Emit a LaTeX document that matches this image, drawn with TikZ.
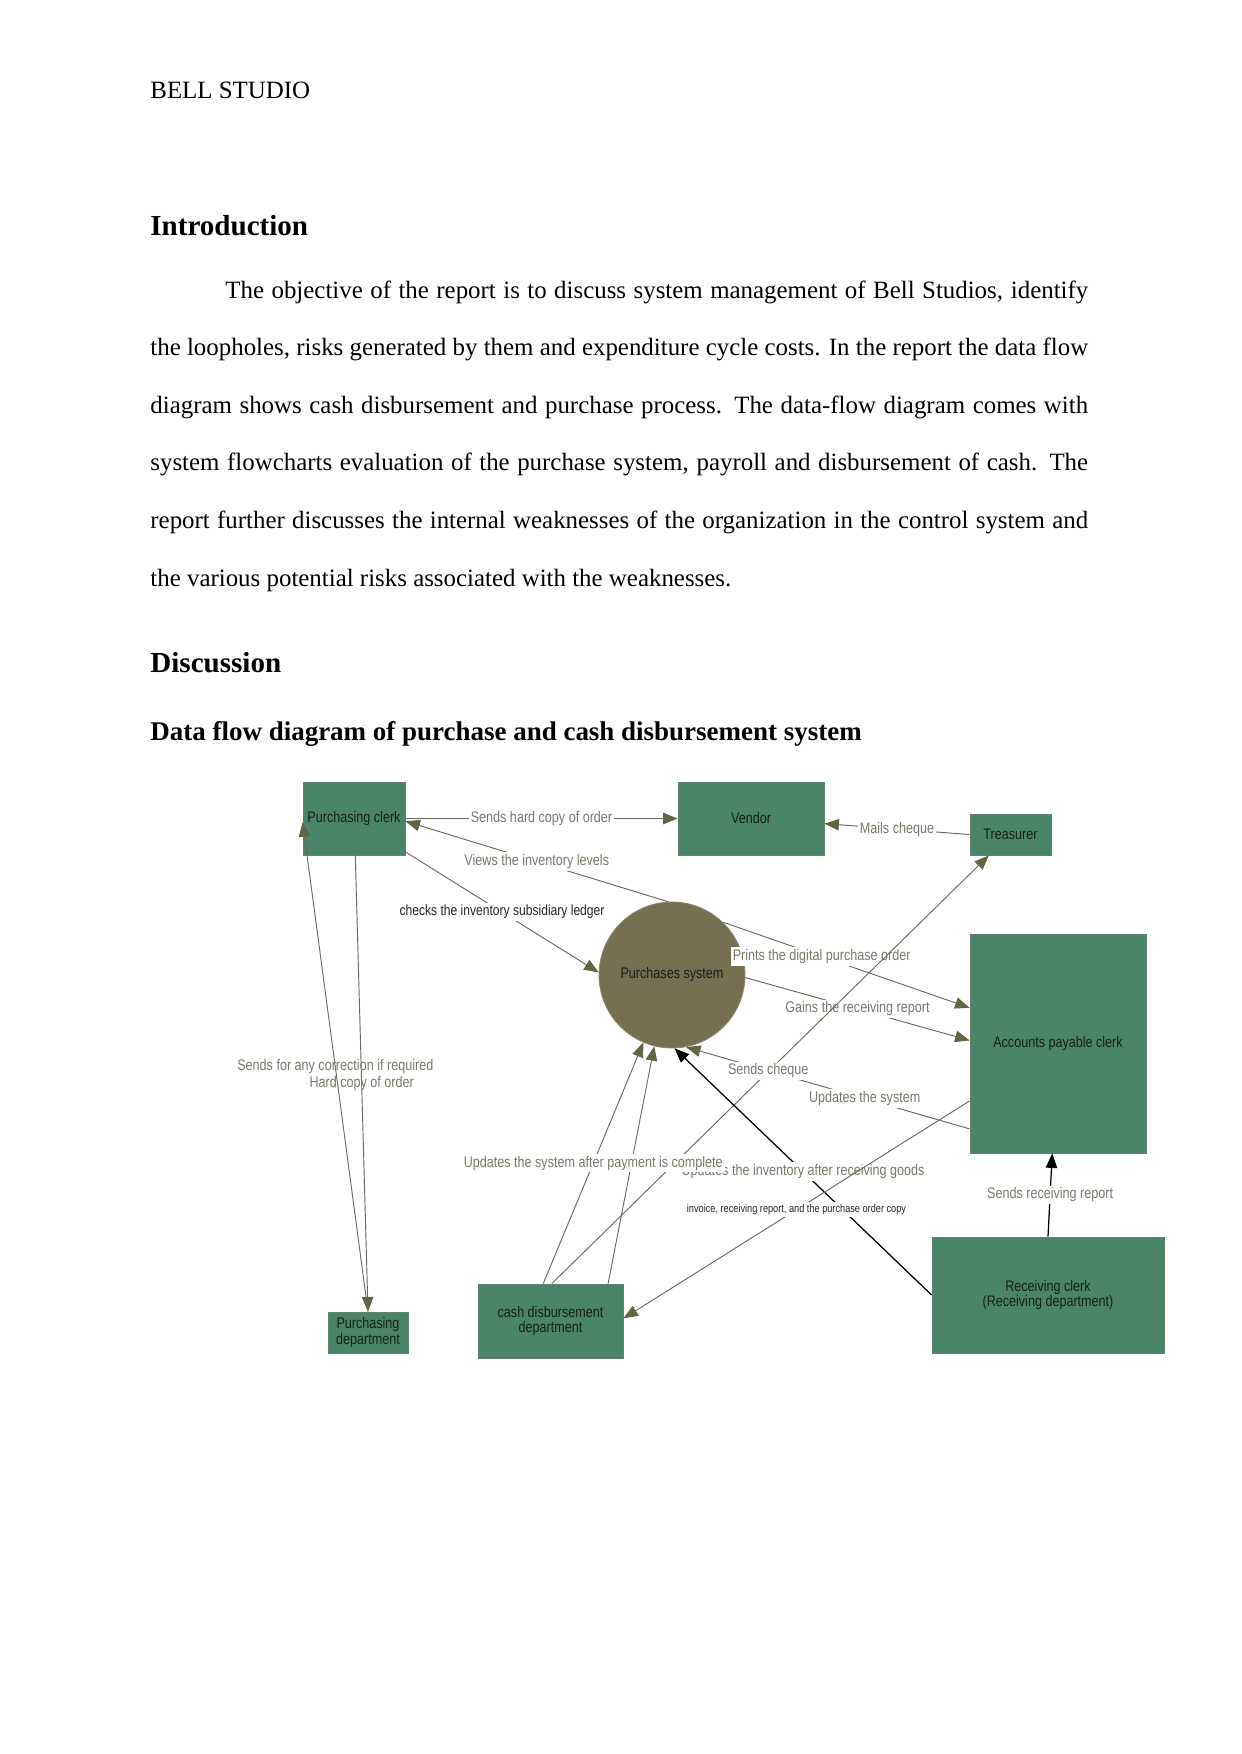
\documentclass[tikz,border=0pt]{standalone}
\usepackage{fontspec}
\setmainfont{Liberation Serif}
\newfontfamily\dfd[FakeStretch=0.82]{Liberation Sans}
\usetikzlibrary{arrows.meta}
\definecolor{boxg}{RGB}{75,133,105}
\definecolor{circc}{RGB}{118,111,82}
\definecolor{linec}{RGB}{105,105,95}
\definecolor{arrc}{RGB}{95,102,68}
\definecolor{lblc}{RGB}{120,122,108}
\definecolor{boxtxt}{RGB}{20,32,26}
\tikzset{
  body/.style={anchor=base west, inner sep=0pt, font=\fontsize{12pt}{14pt}\selectfont},
  head/.style={anchor=base west, inner sep=0pt, font=\bfseries\fontsize{14pt}{16pt}\selectfont},
  subhead/.style={anchor=base west, inner sep=0pt, font=\bfseries\fontsize{13pt}{15pt}\selectfont},
  box/.style={draw=boxg!60!gray, line width=0.4pt, fill=boxg, inner sep=0pt, text=boxtxt,
    font=\dfd\fontsize{7.4pt}{7.4pt}\selectfont, align=center},
  proc/.style={circle, fill=circc, draw=circc!85!white, line width=0.4pt, minimum size=2.472cm,
    inner sep=0pt, text=boxtxt, font=\dfd\fontsize{7.4pt}{7.4pt}\selectfont},
  conn/.style={draw=linec, line width=0.45pt, -{Triangle[length=7pt,width=5.5pt,color=arrc]}},
  bconn/.style={draw=black, line width=0.6pt, -{Triangle[length=7pt,width=5.5pt,color=black]}},
  lbl/.style={fill=white, inner sep=1pt, text=lblc, font=\dfd\fontsize{7.4pt}{7.4pt}\selectfont},
  nlbl/.style={lbl, fill=none},
  dlbl/.style={lbl, text=black!85, font=\dfd\fontsize{7.1pt}{7.1pt}\selectfont},
  slbl/.style={lbl, text=black!85, font=\dfd\fontsize{5.4pt}{5.4pt}\selectfont},
}
\begin{document}
\begin{tikzpicture}[x=0.0169333cm, y=-0.0169333cm]
\useasboundingbox (0,0) rectangle (1241,1754);
\fill[white] (0,0) rectangle (1241,1754);

% ---------- page text ----------
\node[body] (hdr) at (150,98) {BELL STUDIO};
\node[head] (intro) at (150,235) {Introduction};
\node[body] (l1) at (225,298) {\makebox[415.8pt][s]{The objective of the report is to discuss system management of Bell Studios, identify}};
\node[body] (l2) at (150,355.6) {\makebox[451.9pt][s]{the loopholes, risks generated by them and expenditure cycle costs. In the report the data flow}};
\node[body] (l3) at (150,413.2) {\makebox[451.9pt][s]{diagram shows cash disbursement and purchase process. The data-flow diagram comes with}};
\node[body] (l4) at (150,470.8) {\makebox[451.9pt][s]{system flowcharts evaluation of the purchase system, payroll and disbursement of cash. The}};
\node[body] (l5) at (150,528.4) {\makebox[451.9pt][s]{report further discusses the internal weaknesses of the organization in the control system and}};
\node[body] (l6) at (150,586) {the various potential risks associated with the weaknesses.};
\node[head] (disc) at (150,672.5) {Discussion};
\node[subhead] (dfdt) at (150,740) {Data flow diagram of purchase and cash disbursement system};

% ---------- diagram nodes ----------
\node[box, minimum width=1.727cm, minimum height=1.236cm] (pc) at (354,818.5) {Purchasing clerk};
\node[box, minimum width=2.472cm, minimum height=1.236cm] (ven) at (751,818.5) {Vendor};
\node[box, minimum width=1.372cm, minimum height=0.694cm] (tr) at (1010.5,834.5) {Treasurer};
\node[box, minimum width=2.980cm, minimum height=3.708cm] (ap) at (1058,1043.5) {Accounts payable clerk};
\node[box, minimum width=3.929cm, minimum height=1.964cm] (rc) at (1048,1295) {Receiving clerk\\(Receiving department)};
\node[box, minimum width=2.455cm, minimum height=1.253cm] (cd) at (550.5,1321) {cash disbursement\\department};
\node[box, minimum width=1.355cm, minimum height=0.694cm] (pd) at (368,1332.5) {Purchasing\\department};
\node[proc] (ps) at (672,975) {Purchases system};

% ---------- connectors ----------
\draw[conn] (pc.east) -- node[lbl]{Sends hard copy of order} (ven.west);
\draw[conn] (tr.west) -- node[lbl]{Mails cheque} (ven.-4);
\draw[conn] (ps.93) -- node[lbl]{Views the inventory levels} (pc.-3);
\draw[conn] (pc.-33) -- node[dlbl]{checks the inventory subsidiary ledger} (ps.178);
\draw[conn] (ps.46) -- node[lbl, pos=0.4]{Prints the digital purchase order} (ap.158);
\draw[conn] (ps.-2) -- node[lbl]{Gains the receiving report} (ap.178);
\draw[conn] (pd.north) -- node[nlbl]{Sends for any correction if required} (pc.184);
\draw[conn] (pc.-88) -- node[nlbl]{Hard copy of order} (pd.north);
\draw[conn] (cd.88) -- (tr.224);
\draw[conn] (ap.224) -- node[lbl, pos=0.37]{Updates the system} node[lbl, pos=0.71]{Sends cheque} (ps.-79);
\draw[bconn] (rc.north) -- node[lbl]{Sends receiving report} (ap.-93);
\draw[conn] (cd.33) -- (ps.-104);
\draw[bconn] (rc.west) -- node[lbl]{Updates the inventory after receiving goods} (ps.-88);
\draw[conn] (ap.213) -- node[slbl]{invoice, receiving report, and the purchase order copy} (cd.2);
\draw[conn] (cd.101) -- node[lbl]{Updates the system after payment is complete} (ps.-113);
\end{tikzpicture}
\end{document}
